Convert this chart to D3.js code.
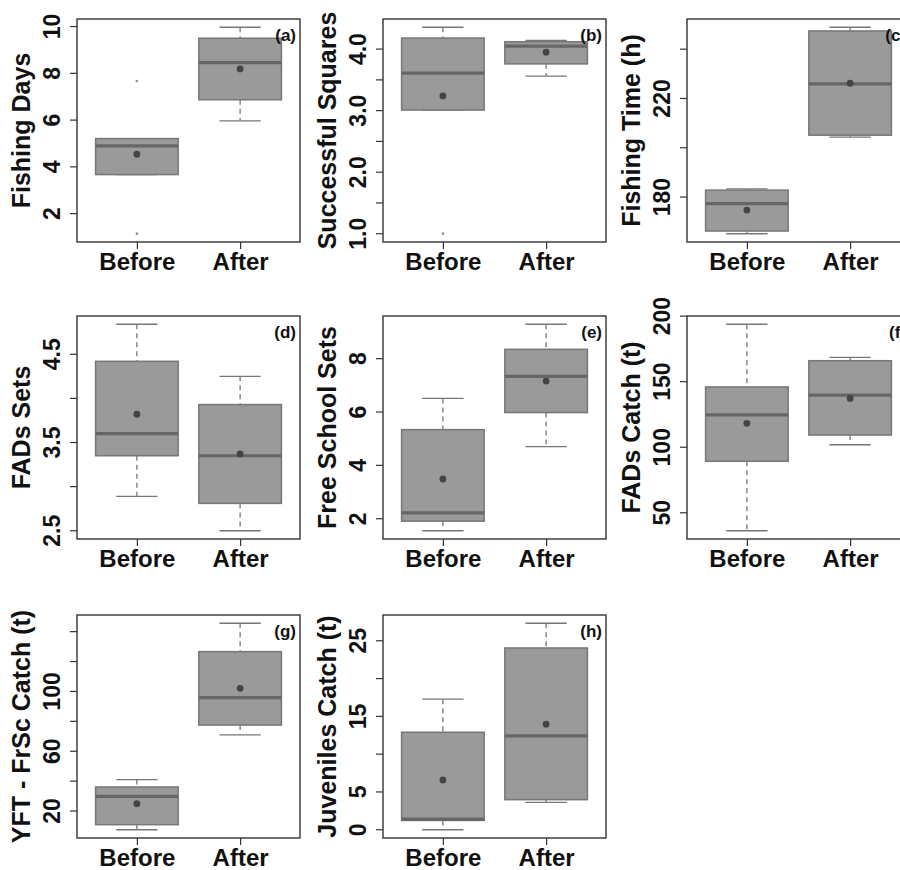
<!DOCTYPE html>
<html>
<head>
<meta charset="utf-8">
<script src="https://cdn.jsdelivr.net/npm/d3@7"></script>
<style>
  body { margin: 0; background: #fff; }
  svg text { font-family: "Liberation Sans", Arial, sans-serif; font-weight: bold; fill: #111; }
</style>
</head>
<body>
<div id="chart"></div>
<script>
// groups and panel labels
const groups = ['Before', 'After'];
const panelTags = ['(a)', '(b)', '(c)', '(d)', '(e)', '(f)', '(g)', '(h)'];
const yTitles = ['Fishing Days', 'Successful Squares', 'Fishing Time (h)', 'FADs Sets',
  'Free School Sets', 'FADs Catch (t)', 'YFT - FrSc Catch (t)', 'Juveniles Catch (t)'];

// box stats per panel, [Before, After]
const lowWhisker = [[3.67, 5.97], [3.01, 3.56], [165.1, 204.3], [2.89, 2.50], [1.55, 4.70], [36.3, 101.9], [7.5, 71.0], [0, 3.62]];
const q1 = [[3.67, 6.87], [3.01, 3.76], [166.2, 205.1], [3.35, 2.81], [1.91, 5.98], [89.3, 109.3], [10.9, 77.5], [1.23, 3.98]];
const medians = [[4.90, 8.46], [3.61, 4.05], [177.3, 225.9], [3.60, 3.35], [2.22, 7.34], [124.7, 139.7], [29.85, 95.8], [1.41, 12.41]];
const q3 = [[5.21, 9.50], [4.18, 4.12], [182.8, 247.4], [4.42, 3.93], [5.34, 8.35], [146, 166], [36.1, 126.6], [12.9, 24.05]];
const highWhisker = [[5.21, 9.97], [4.355, 4.14], [183.3, 248.9], [4.84, 4.25], [6.51, 9.29], [193.8, 168.5], [41.05, 145.6], [17.28, 27.32]];
const means = [[4.54, 8.19], [3.24, 3.95], [174.7, 226.2], [3.82, 3.37], [3.49, 7.16], [118.2, 137.2], [24.96, 102.1], [6.58, 13.97]];
const outliers = [[[7.67, 1.14], []], [[1.0], []], [[], []], [[], []], [[], []], [[], []], [[], []], [[], []]];

// y ticks and which of them get a label
const yTicks = [[2, 4, 6, 8, 10], [1, 1.5, 2, 2.5, 3, 3.5, 4], [180, 200, 220, 240], [2.5, 3, 3.5, 4, 4.5],
  [2, 4, 6, 8], [50, 100, 150, 200], [20, 40, 60, 80, 100, 120, 140], [0, 5, 10, 15, 20, 25]];
const yTickLabels = [['2', '4', '6', '8', '10'], ['1.0', '', '2.0', '', '3.0', '', '4.0'], ['180', '', '220', ''],
  ['2.5', '', '3.5', '', '4.5'], ['2', '4', '6', '8'], ['50', '100', '150', '200'],
  ['20', '', '60', '', '100', '', ''], ['0', '5', '', '15', '', '25']];

const W = 900, H = 870;
const size = 223;
const colLeft = [77, 383, 687];
const rowTop = [19, 316, 615];

const svg = d3.select('#chart').append('svg')
  .attr('width', W)
  .attr('height', H);

const x = d3.scaleLinear().domain([0.42, 2.58]).range([0, size]);

panelTags.forEach((tag, p) => {
  const g = svg.append('g')
    .attr('transform', 'translate(' + colLeft[p % 3] + ',' + rowTop[Math.floor(p / 3)] + ')');

  // R style range: data extent padded by 4%
  const lo = d3.min([d3.min(lowWhisker[p]), d3.min(outliers[p].flat())]);
  const hi = d3.max([d3.max(highWhisker[p]), d3.max(outliers[p].flat())]);
  const pad = (hi - lo) * 0.04;
  const y = d3.scaleLinear().domain([lo - pad, hi + pad]).range([size, 0]);

  /* ----------axes------------*/
  const yAxis = g.append('g')
    .call(d3.axisLeft(y).tickValues(yTicks[p]).tickSize(7).tickPadding(0)
      .tickFormat((d, i) => yTickLabels[p][i]));
  yAxis.select('.domain').remove();
  yAxis.selectAll('line').attr('stroke', '#333').attr('stroke-width', 1.2);
  yAxis.selectAll('text')
    .attr('transform', d => 'translate(-17,' + y(d) + ') rotate(-90)')
    .attr('x', 0).attr('y', 0).attr('dy', 0)
    .attr('text-anchor', 'middle')
    .style('font-size', '23px');
  yAxis.selectAll('.tick').attr('transform', null);
  yAxis.selectAll('.tick line').attr('transform', d => 'translate(0,' + y(d) + ')');

  const xAxis = g.append('g')
    .attr('transform', 'translate(0,' + size + ')')
    .call(d3.axisBottom(x).tickValues([1, 2]).tickSize(7).tickPadding(0)
      .tickFormat((d, i) => groups[i]));
  xAxis.select('.domain').remove();
  xAxis.selectAll('line').attr('stroke', '#333').attr('stroke-width', 1.2);
  xAxis.selectAll('text')
    .attr('y', 28).attr('dy', 0)
    .style('font-size', '24px');

  g.append('text')
    .attr('transform', 'translate(-47,' + (size / 2) + ') rotate(-90)')
    .attr('text-anchor', 'middle')
    .style('font-size', '25px')
    .text(yTitles[p]);

  /* ----------boxes------------*/
  groups.forEach((grp, i) => {
    const cx = x(i + 1);
    const bw = x(0.8) - x(0);
    const sw = bw / 2;
    const whisk = g.append('g');
    whisk.append('line')
      .attr('x1', cx).attr('x2', cx)
      .attr('y1', y(highWhisker[p][i])).attr('y2', y(q3[p][i]))
      .attr('stroke', '#777').attr('stroke-width', 1.3).attr('stroke-dasharray', '5,4');
    whisk.append('line')
      .attr('x1', cx).attr('x2', cx)
      .attr('y1', y(q1[p][i])).attr('y2', y(lowWhisker[p][i]))
      .attr('stroke', '#777').attr('stroke-width', 1.3).attr('stroke-dasharray', '5,4');
    [highWhisker[p][i], lowWhisker[p][i]].forEach(v => {
      whisk.append('line')
        .attr('x1', cx - sw / 2).attr('x2', cx + sw / 2)
        .attr('y1', y(v)).attr('y2', y(v))
        .attr('stroke', '#777').attr('stroke-width', 1.3);
    });

    g.append('rect')
      .attr('x', cx - bw / 2)
      .attr('y', y(q3[p][i]))
      .attr('width', bw)
      .attr('height', y(q1[p][i]) - y(q3[p][i]))
      .style('fill', '#9a9a9a')
      .style('stroke', '#777')
      .style('stroke-width', 1.5);

    g.append('line')
      .attr('x1', cx - bw / 2).attr('x2', cx + bw / 2)
      .attr('y1', y(medians[p][i])).attr('y2', y(medians[p][i]))
      .attr('stroke', '#666').attr('stroke-width', 3.2);

    g.append('circle')
      .attr('cx', cx).attr('cy', y(means[p][i]))
      .attr('r', 3.4)
      .style('fill', '#444');

    g.selectAll(null)
      .data(outliers[p][i])
      .enter()
      .append('circle')
      .attr('cx', cx).attr('cy', d => y(d))
      .attr('r', 1.4)
      .style('fill', '#999');
  });

  /* ----------frame and tag------------*/
  g.append('rect')
    .attr('width', size).attr('height', size)
    .style('fill', 'none')
    .style('stroke', '#333')
    .style('stroke-width', 1.4);

  g.append('text')
    .attr('x', size - 4).attr('y', 22)
    .attr('text-anchor', 'end')
    .style('font-size', '17px')
    .text(tag);
});
</script>
</body>
</html>
